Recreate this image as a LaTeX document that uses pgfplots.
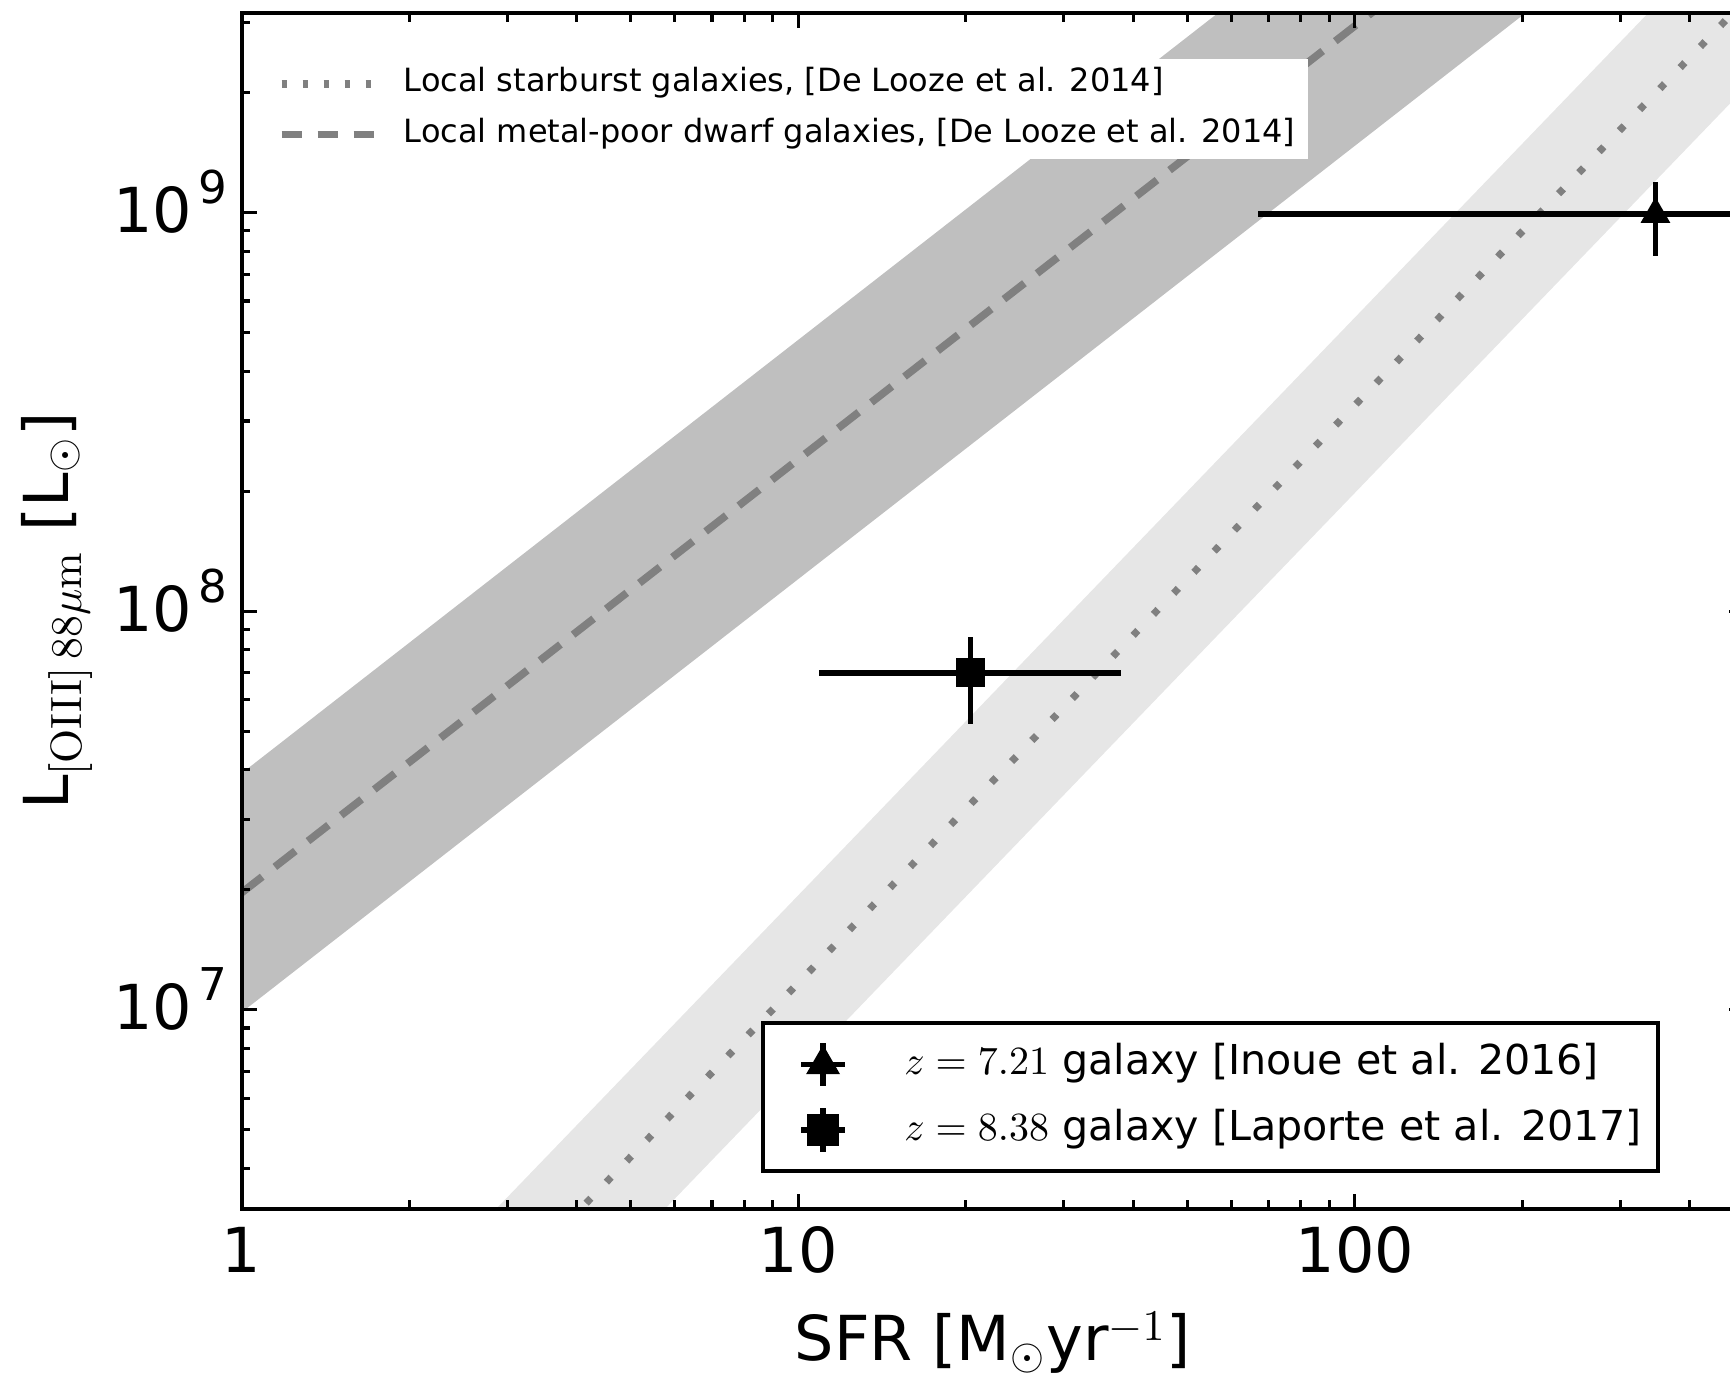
\documentclass[border=0pt]{standalone}
\usepackage{pgfplots}
\pgfplotsset{compat=1.18}
\usepackage[no-math]{fontspec}
\setmainfont{DejaVu Sans}

\definecolor{dwarfband}{HTML}{BFBFBF}
\definecolor{sbband}{HTML}{E6E6E6}
\definecolor{relline}{HTML}{808080}

% tick label "10" with a raised exponent
\newcommand{\tenpow}[1]{10\hspace{1.6pt}\raisebox{7.2pt}{\fontsize{11.3}{12}\selectfont #1}}

\begin{document}
\begin{tikzpicture}
% ---------------- relations and frame ----------------
\begin{axis}[name=ax, axis on top,
  scale only axis, width=375.5pt, height=298.925pt,
  xmode=log, ymode=log,
  xmin=1, xmax=500, ymin=3.1623e6, ymax=3.1623e9,
  axis line style={line width=1pt},
  tick style={line width=0.8pt, black},
  major tick length=3.75pt, minor tick length=2.2pt,
  xtick={1,10,100}, xticklabels={1,10,100},
  minor xtick={2,3,4,5,6,7,8,9,20,30,40,50,60,70,80,90,200,300,400},
  ytick={1e7,1e8,1e9},
  yticklabels={\tenpow{7},\tenpow{8},\tenpow{9}},
  minor ytick={4e6,5e6,6e6,7e6,8e6,9e6,2e7,3e7,4e7,5e7,6e7,7e7,8e7,9e7,2e8,3e8,4e8,5e8,6e8,7e8,8e8,9e8,2e9,3e9},
  tick label style={font=\fontsize{15.5}{18}\selectfont},
  xticklabel style={anchor=base, inner sep=0pt, yshift=-16pt},
  yticklabel style={anchor=base east, inner sep=0pt, xshift=-3.4pt, yshift=-5pt},
  every axis x label/.style={at={(axis description cs:0.5,-0.1271)}, anchor=base},
  every axis y label/.style={at={(axis description cs:-0.1156,0.5)}, anchor=base, rotate=90},
  label style={font=\fontsize{15.5}{18}\selectfont},
  xlabel={SFR [M$_{\odot}$yr$^{-1}$]},
  ylabel={L$_{\mathrm{[OIII]}\,88\mu\mathrm{m}}$ [L$_{\odot}$]},
  legend style={at={(0.0128,0.9625)}, anchor=north west, draw=none, fill=white,
    inner xsep=3.25pt, inner ysep=2.2pt, row sep=4.6pt, column sep=6.5pt,
    font=\fontsize{8}{9.6}\selectfont,
    nodes={inner xsep=0pt, inner ysep=0pt, text height=6pt, text depth=2pt}},
  legend cell align=left,
]
% scatter bands: dwarfs (sigma 0.30 dex) and starbursts (sigma 0.22 dex)
\addplot[draw=none, fill=dwarfband, forget plot]
  coordinates {(1,3.92e7) (500,3.37e10) (500,8.45e9) (1,9.85e6)};
\addplot[draw=none, fill=sbband, forget plot]
  coordinates {(1,6.88e5) (500,5.615e9) (500,2.038e9) (1,2.50e5)};
% starburst relation
\addplot[relline, line width=1.8pt, dash pattern=on 1.7pt off 5.6pt,
  legend image code/.code={
    \path[draw=none, fill=none] (0pt,0pt) -- (24.75pt,0pt);
    \draw[relline, line width=2pt, dash pattern=on 1.3pt off 3.95pt] (1.75pt,0pt) -- (24.75pt,0pt);}]
  coordinates {(1,4.147e5) (500,3.383e9)};
\addlegendentry{Local starburst galaxies, [De Looze et al. 2014]}
% metal-poor dwarf relation
\addplot[relline, line width=1.9pt, dash pattern=on 6.5pt off 4pt,
  legend image code/.code={
    \path[draw=none, fill=none] (0pt,0pt) -- (24.75pt,0pt);
    \draw[relline, line width=1.8pt, dash pattern=on 5pt off 4pt] (1.75pt,0pt) -- (24.75pt,0pt);}]
  coordinates {(1,1.966e7) (500,1.69e10)};
\addlegendentry{Local metal-poor dwarf galaxies, [De Looze et al. 2014]}
\end{axis}

% ---------------- high-redshift galaxies ----------------
\begin{axis}[hide axis,
  scale only axis, width=375.5pt, height=298.925pt,
  xmode=log, ymode=log,
  xmin=1, xmax=500, ymin=3.1623e6, ymax=3.1623e9,
  legend style={at={(0.9443,0.0301)}, anchor=south east, draw=black, line width=1pt, fill=white,
    inner xsep=4pt, inner ysep=4.15pt, row sep=4.2pt, column sep=14.2pt,
    font=\fontsize{10.3}{12}\selectfont,
    nodes={inner xsep=0pt, inner ysep=0pt, text height=7.8pt, text depth=2.5pt}},
  legend cell align=left,
]
\addplot[only marks, mark=triangle*, mark size=3.9pt, black,
  legend image code/.code={
    \path[draw=none, fill=none] (0pt,0pt) -- (16.3pt,0pt);
    \draw[black, line width=1.4pt] (5.5pt,0pt) -- (16.3pt,0pt) (10.9pt,-5.4pt) -- (10.9pt,5.4pt);
    \draw[only marks, mark=triangle*, mark size=3.9pt, black] plot coordinates {(10.9pt,0pt)};},
  error bars/.cd, x dir=both, x explicit, y dir=both, y explicit,
    error bar style={line width=1.4pt, black}, error mark=none]
  table[x=sfr, y=lum, x error plus=sfrp, x error minus=sfrm, y error plus=lump, y error minus=lumm] {
  sfr  lum     sfrp  sfrm  lump    lumm
  347  9.9e8   653   280   2.0e8   2.1e8
};
\addlegendentry{$z=7.21$ galaxy [Inoue et al. 2016]}
\addplot[only marks, mark=square*, mark size=3.4pt, black,
  legend image code/.code={
    \path[draw=none, fill=none] (0pt,0pt) -- (16.3pt,0pt);
    \draw[black, line width=1.4pt] (5.5pt,0pt) -- (16.3pt,0pt) (10.9pt,-5.4pt) -- (10.9pt,5.4pt);
    \draw[only marks, mark=square*, mark size=3.4pt, black] plot coordinates {(10.9pt,0pt)};},
  error bars/.cd, x dir=both, x explicit, y dir=both, y explicit,
    error bar style={line width=1.4pt, black}, error mark=none]
  table[x=sfr, y=lum, x error plus=sfrp, x error minus=sfrm, y error plus=lump, y error minus=lumm] {
  sfr   lum     sfrp  sfrm  lump    lumm
  20.4  7.0e7   17.6  9.5   1.6e7   1.8e7
};
\addlegendentry{$z=8.38$ galaxy [Laporte et al. 2017]}
\end{axis}

\pgfresetboundingbox
\useasboundingbox ([xshift=-60.425pt,yshift=-41.25pt]ax.south west)
  rectangle ([xshift=372.075pt,yshift=302.25pt]ax.south west);
\end{tikzpicture}
\end{document}
